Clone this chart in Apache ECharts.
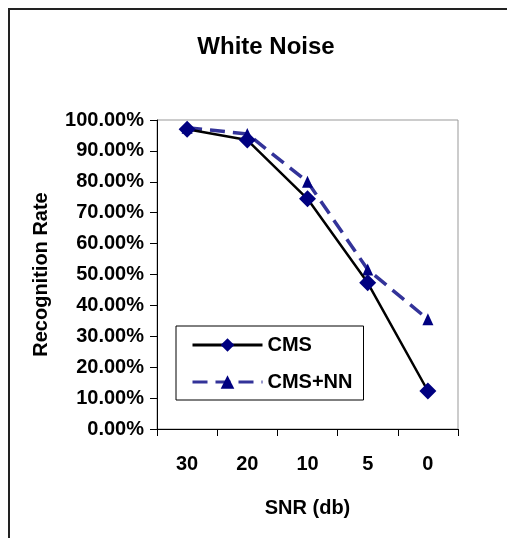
<!DOCTYPE html>
<html>
<head>
<meta charset="utf-8">
<script src="https://cdn.jsdelivr.net/npm/echarts@6/dist/echarts.min.js"></script>
<style>
  html, body { margin: 0; padding: 0; background: #fff; }
  #chart { width: 507px; height: 538px; }
</style>
</head>
<body>
<div id="chart"></div>
<script>
var snrLabels = ['30', '20', '10', '5', '0'];
var cmsRate = [97.0, 93.5, 74.5, 47.3, 12.3];
var cmsNnRate = [97.5, 95.5, 80.0, 51.6, 35.5];

var font = 'Liberation Sans, Arial, sans-serif';

var chart = echarts.init(document.getElementById('chart'));

chart.setOption({
  backgroundColor: '#fff',
  animation: false,
  title: {
    text: 'White Noise',
    left: 261,
    top: 30,
    textAlign: 'center',
    textStyle: { fontFamily: font, fontSize: 24, fontWeight: 'bold', color: '#000' }
  },
  graphic: [{
    type: 'rect',
    shape: { x: 9, y: 9, width: 700, height: 700 },
    style: { fill: 'none', stroke: '#222', lineWidth: 2 },
    silent: true
  }],
  legend: {
    orient: 'vertical',
    left: 176,
    top: 326,
    padding: [9, 11, 8, 15],
    itemWidth: 70,
    itemHeight: 17,
    itemGap: 17,
    backgroundColor: '#fff',
    borderColor: '#000',
    borderWidth: 1,
    borderRadius: 0,
    lineStyle: { width: 3 },
    textStyle: { fontFamily: font, fontSize: 20, fontWeight: 'bold', color: '#000' },
    data: ['CMS', 'CMS+NN']
  },
  grid: {
    left: 157,
    right: 49,
    top: 120,
    bottom: 109,
    show: true,
    borderColor: '#999',
    borderWidth: 1,
    backgroundColor: '#fff'
  },
  xAxis: {
    type: 'category',
    data: snrLabels,
    boundaryGap: true,
    name: 'SNR (db)',
    nameLocation: 'middle',
    nameGap: 69,
    nameTextStyle: { fontFamily: font, fontSize: 20, fontWeight: 'bold', color: '#000' },
    axisLine: { lineStyle: { color: '#000', width: 1 } },
    axisTick: { show: true, length: 7, lineStyle: { color: '#000' } },
    axisLabel: { margin: 25, fontFamily: font, fontSize: 20, fontWeight: 'bold', color: '#000' },
    splitLine: { show: false }
  },
  yAxis: {
    type: 'value',
    min: 0,
    max: 100,
    interval: 10,
    name: 'Recognition Rate',
    nameLocation: 'middle',
    nameGap: 106,
    nameTextStyle: { fontFamily: font, fontSize: 20, fontWeight: 'bold', color: '#000' },
    axisLine: { show: true, lineStyle: { color: '#000', width: 1 } },
    axisTick: { show: true, length: 7, lineStyle: { color: '#000' } },
    axisLabel: {
      margin: 13,
      fontFamily: font,
      fontSize: 20,
      fontWeight: 'bold',
      color: '#000',
      formatter: function (v) { return v.toFixed(2) + '%'; }
    },
    splitLine: { show: false }
  },
  series: [
    {
      name: 'CMS',
      type: 'line',
      z: 3,
      data: cmsRate,
      symbol: 'diamond',
      symbolSize: 17,
      lineStyle: { color: '#000', width: 2.5 },
      itemStyle: { color: '#000080', borderWidth: 0 }
    },
    {
      name: 'CMS+NN',
      type: 'line',
      z: 2,
      data: cmsNnRate,
      symbol: 'triangle',
      symbolSize: [11, 12],
      lineStyle: { color: '#333399', width: 3.5, type: [15, 8] },
      itemStyle: { color: '#000080', borderWidth: 0 }
    }
  ]
});
</script>
</body>
</html>
